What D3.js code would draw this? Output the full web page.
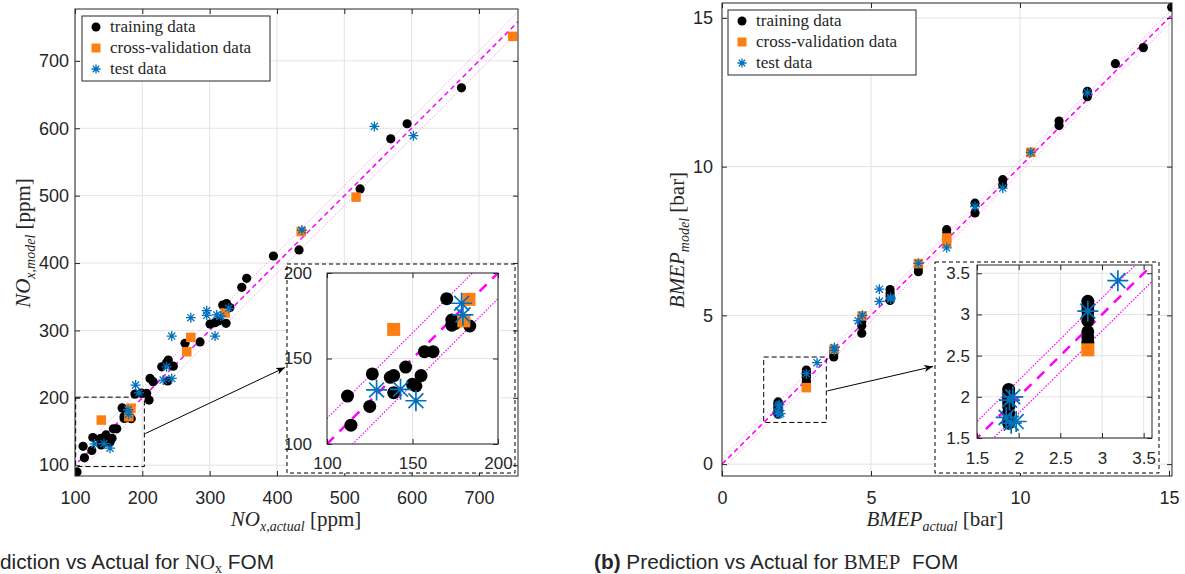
<!DOCTYPE html>
<html>
<head>
<meta charset="utf-8">
<script src="https://cdn.jsdelivr.net/npm/d3@7"></script>
<style>
  body { margin: 0; background: #fff; }
  text { fill: #262626; }
</style>
</head>
<body>
<div id="chart"></div>
<script>

// ---- data: [actual, model] pairs ----

let noxTrain = [
  [103, 90], [112, 128], [114, 111], [125, 122], [126.5, 141], [137, 139], [139, 140], [139, 130],
  [146, 145], [150, 135], [152, 134], [155, 140], [157, 154], [162, 154], [170, 185], [173, 172.5],
  [173, 169.5], [175, 170.5], [183.5, 169], [189, 205.5], [199, 207], [206.5, 206.5], [210, 196.6],
  [211.4, 228.8], [216, 224], [228.8, 246], [236, 252], [238.6, 256], [246, 247], [237.7, 225],
  [263.4, 281], [285.7, 283], [300.6, 309.5], [308, 311.5], [319.4, 337.7], [325, 340], [330, 334],
  [324.4, 310.5], [313, 314], [347.7, 364], [355, 377.4], [394.7, 410.5], [432.8, 419.5],
  [523.5, 510], [569, 584.4], [593.3, 606.7], [674, 660]
];
let noxCv = [
  [139, 167], [183, 184.6], [180, 172], [266, 268.4], [272, 289.7], [323, 326],
  [436, 446.7], [517.5, 497.8], [750, 736.4]
];
let noxTest = [
  [129, 131.6], [143, 132], [152, 125.3], [178.7, 182.3], [179.5, 175.5], [190, 219], [195, 207.4],
  [231, 226.3], [236, 246], [243.7, 228.8], [243.7, 291.7], [272, 319], [295.6, 329.3],
  [295.6, 322.4], [308, 291.7], [310.5, 323], [316.5, 321.4], [328.4, 332.8], [437, 449],
  [544.7, 602.7], [602.7, 589]
];

let bmepTrain = [
  [1.88, 2.09], [1.88, 2.04], [1.88, 1.98], [1.88, 1.93], [1.88, 1.88], [1.88, 1.80], [1.88, 1.72], [1.88, 1.68],
  [2.83, 3.16], [2.83, 3.10], [2.83, 3.04], [2.83, 2.97], [2.83, 2.92], [2.83, 2.79], [2.83, 2.72], [2.83, 2.66],
  [3.75, 3.60], [3.75, 3.70], [3.75, 3.80], [4.69, 4.40], [4.69, 4.65], [4.69, 4.79],
  [5.64, 5.87], [5.64, 5.75], [5.64, 5.65], [5.64, 5.50], [6.59, 6.47], [6.59, 6.60],
  [7.54, 7.88], [7.54, 7.75], [8.49, 8.44], [8.49, 8.77], [9.42, 9.56], [9.42, 9.39],
  [11.31, 11.53], [11.31, 11.38], [12.26, 12.35], [12.26, 12.53], [13.2, 13.46], [14.14, 14.0],
  [15.09, 15.36]
];
let bmepCv = [
  [2.83, 2.57], [3.76, 3.86], [4.7, 4.98], [6.59, 6.74], [7.54, 7.6], [7.54, 7.45], [10.36, 10.48]
];
let bmepTest = [
  [1.89, 1.96], [1.93, 2.0], [1.85, 1.75], [1.97, 1.70], [1.91, 1.68], [2.83, 3.04], [3.19, 3.41],
  [3.77, 3.82], [3.77, 3.92], [4.57, 4.82], [4.71, 5.0], [5.28, 5.88], [5.28, 5.47], [5.66, 5.55],
  [5.66, 5.6], [6.59, 6.75], [7.54, 7.27], [8.49, 8.66], [9.42, 9.28], [10.36, 10.48], [12.26, 12.48]
];

let noxTicks = [100, 200, 300, 400, 500, 600, 700];
let noxInsetTicks = [100, 150, 200];
let bmepTicks = [0, 5, 10, 15];
let bmepInsetTicks = [1.5, 2, 2.5, 3, 3.5];
let legendLabels = ["training data", "cross-validation data", "test data"];

// colours
let cOrange = "#fd7f12", cBlue = "#0072bd", cMag = "#ff00ff", cAxis = "#262626", cGrid = "#e3e3e3";

let svg = d3.select("#chart").append("svg")
    .attr("width", 1185)
    .attr("height", 574)
    .style("font-family", "'Liberation Sans', Arial, sans-serif");

let defs = svg.append("defs");
defs.append("marker")
    .attr("id", "arrow")
    .attr("viewBox", "0 0 10 10")
    .attr("refX", 10).attr("refY", 5)
    .attr("markerWidth", 9).attr("markerHeight", 9)
    .attr("markerUnits", "userSpaceOnUse")
    .attr("orient", "auto")
  .append("path")
    .attr("d", "M0,1 L10,5 L0,9 L3,5 Z")
    .attr("fill", "#000");

function starPath(s) {
  let h = s / 2, d = h * 0.71;
  return "M" + (-h) + ",0H" + h + "M0," + (-h) + "V" + h +
         "M" + (-d) + "," + (-d) + "L" + d + "," + d +
         "M" + (-d) + "," + d + "L" + d + "," + (-d);
}

let clipId = 0;

// one set of axes (main plot or inset)
function drawAxes(g, box, xDom, yDom, ticks, opt) {
  let x = d3.scaleLinear().domain(xDom).range([box.l, box.r]);
  let y = d3.scaleLinear().domain(yDom).range([box.b, box.t]);
  let fmt = d3.format("~g");

  if (opt.white) {
    g.append("rect")
      .attr("x", box.l).attr("y", box.t)
      .attr("width", box.r - box.l).attr("height", box.b - box.t)
      .attr("fill", "#fff");
  }

  // grid
  g.append("g").selectAll("line.gx").data(ticks).enter().append("line")
    .attr("x1", d => x(d)).attr("x2", d => x(d))
    .attr("y1", box.t).attr("y2", box.b)
    .attr("stroke", cGrid).attr("stroke-width", 1);
  g.append("g").selectAll("line.gy").data(ticks).enter().append("line")
    .attr("y1", d => y(d)).attr("y2", d => y(d))
    .attr("x1", box.l).attr("x2", box.r)
    .attr("stroke", cGrid).attr("stroke-width", 1);

  let id = "clip" + (clipId++);
  defs.append("clipPath").attr("id", id).append("rect")
    .attr("x", box.l).attr("y", box.t)
    .attr("width", box.r - box.l).attr("height", box.b - box.t);
  let plot = g.append("g").attr("clip-path", "url(#" + id + ")");

  // identity line and +/- band
  let lo = Math.min(xDom[0], yDom[0]) - opt.band, hi = Math.max(xDom[1], yDom[1]) + opt.band;
  [[0, opt.dash], [opt.band, opt.dot], [-opt.band, opt.dot]].forEach(function(l) {
    plot.append("line")
      .attr("x1", x(lo)).attr("y1", y(lo + l[0]))
      .attr("x2", x(hi)).attr("y2", y(hi + l[0]))
      .attr("stroke", cMag)
      .attr("stroke-width", l[1].w)
      .attr("stroke-opacity", l[1].o)
      .attr("stroke-dasharray", l[1].d);
  });

  // markers
  plot.append("g").selectAll("circle").data(opt.train).enter().append("circle")
    .attr("cx", d => x(d[0])).attr("cy", d => y(d[1]))
    .attr("r", opt.r).attr("fill", "#000");
  plot.append("g").selectAll("rect").data(opt.cv).enter().append("rect")
    .attr("x", d => x(d[0]) - opt.sq / 2).attr("y", d => y(d[1]) - opt.sq / 2)
    .attr("width", opt.sq).attr("height", opt.sq).attr("fill", cOrange);
  plot.append("g").selectAll("path").data(opt.test).enter().append("path")
    .attr("transform", d => "translate(" + x(d[0]) + "," + y(d[1]) + ")")
    .attr("d", starPath(opt.st))
    .attr("fill", "none").attr("stroke", cBlue).attr("stroke-width", opt.stw);

  // axes, ticks pointing inward
  let axes = [
    [d3.axisBottom(x), "translate(0," + box.b + ")", opt.xPad, true],
    [d3.axisTop(x), "translate(0," + box.t + ")", 0, false],
    [d3.axisLeft(y), "translate(" + box.l + ",0)", opt.yPad, true],
    [d3.axisRight(y), "translate(" + box.r + ",0)", 0, false]
  ];
  axes.forEach(function(a) {
    let ax = a[0].tickValues(ticks).tickSizeInner(-5).tickSizeOuter(0)
      .tickPadding(a[2]).tickFormat(a[3] ? fmt : "");
    let ag = g.append("g").attr("transform", a[1]).call(ax);
    ag.select(".domain").remove();
    ag.selectAll(".tick line").attr("stroke", cAxis);
    ag.selectAll("text")
      .style("font-size", opt.fs + "px")
      .style("font-family", "'Liberation Sans', Arial, sans-serif")
      .attr("fill", cAxis);
  });

  g.append("rect")
    .attr("x", box.l).attr("y", box.t)
    .attr("width", box.r - box.l).attr("height", box.b - box.t)
    .attr("fill", "none").attr("stroke", cAxis).attr("stroke-width", 1);

  return {x: x, y: y};
}

function mathLabel(t, base, sub, unit) {
  t.append("tspan").attr("font-style", "italic").text(base);
  t.append("tspan").attr("font-style", "italic").attr("font-size", 14).attr("dy", 5).text(sub);
  t.append("tspan").attr("dy", -5).text(" [" + unit + "]");
}

function drawLegend(g, lx, ly) {
  let w = 188, h = 65;
  g.append("rect").attr("x", lx).attr("y", ly).attr("width", w).attr("height", h)
    .attr("fill", "#fff").attr("stroke", cAxis).attr("stroke-width", 1);
  legendLabels.forEach(function(lab, i) {
    let cy = ly + 11 + i * 21, mx = lx + 14;
    if (i == 0) g.append("circle").attr("cx", mx).attr("cy", cy).attr("r", 4.5).attr("fill", "#000");
    if (i == 1) g.append("rect").attr("x", mx - 4.5).attr("y", cy - 4.5).attr("width", 9).attr("height", 9).attr("fill", cOrange);
    if (i == 2) g.append("path").attr("transform", "translate(" + mx + "," + cy + ")")
      .attr("d", starPath(9)).attr("stroke", cBlue).attr("stroke-width", 1.3).attr("fill", "none");
    g.append("text").attr("x", lx + 28).attr("y", cy + 5)
      .style("font-family", "'Liberation Serif', 'Times New Roman', serif")
      .style("font-size", "17px")
      .text(lab);
  });
}

let mainStyle = {
  dash: {w: 1.5, o: 1, d: "5,3.5"},
  dot: {w: 0.8, o: 0.55, d: "1.2,1.6"},
  r: 4.6, sq: 9.5, st: 10, stw: 1.3, fs: 18, white: false
};
let insetStyle = {
  dash: {w: 2.5, o: 1, d: "10,8"},
  dot: {w: 1.2, o: 1, d: "1.5,1.5"},
  r: 6.5, sq: 13, st: 21, stw: 1.7, fs: 17, white: true
};

// panels built from the arrays above
let panels = [
  {
    box: {l: 75, t: 9, r: 518, b: 476}, xDom: [100, 758], yDom: [84, 777], ticks: noxTicks,
    band: 15, train: noxTrain, cv: noxCv, test: noxTest, yPad: 6, xPad: 15,
    zoom: [[101, 98], [203, 201]], arrowY: 147, legend: [82, 16],
    inset: {box: {l: 327, t: 273, r: 498, b: 444}, dom: [100, 200], ticks: noxInsetTicks,
            outer: [287, 264, 515, 473], yPad: 15, xPad: 13},
    xl: ["NO", "x,actual", "ppm", 296, 526], yl: ["NO", "x,model", "ppm", 30, 243]
  },
  {
    box: {l: 722, t: 3, r: 1172, b: 476}, xDom: [0, 15.1], yDom: [-0.4, 15.5], ticks: bmepTicks,
    band: 0.2, train: bmepTrain, cv: bmepCv, test: bmepTest, yPad: 9, xPad: 15,
    zoom: [[1.4, 1.4], [3.5, 3.6]], arrowY: 2.46, legend: [728, 10],
    inset: {box: {l: 977, t: 265, r: 1152, b: 438}, dom: [1.5, 3.6], ticks: bmepInsetTicks,
            outer: [935, 262, 1159, 473], yPad: 7, xPad: 14},
    xl: ["BMEP", "actual", "bar", 935, 526], yl: ["BMEP", "model", "bar", 684, 240]
  }
];

panels.forEach(function(p) {
  let g = svg.append("g");
  let s = drawAxes(g, p.box, p.xDom, p.yDom, p.ticks, Object.assign({}, mainStyle,
    {band: p.band, train: p.train, cv: p.cv, test: p.test, yPad: p.yPad, xPad: p.xPad}));

  // axis labels
  let xt = g.append("text").attr("x", p.xl[3]).attr("y", p.xl[4]).attr("text-anchor", "middle")
    .style("font-family", "'Liberation Serif', serif").style("font-size", "21px");
  mathLabel(xt, p.xl[0], p.xl[1], p.xl[2]);
  let yt = g.append("text").attr("text-anchor", "middle")
    .attr("transform", "translate(" + p.yl[3] + "," + p.yl[4] + ") rotate(-90)")
    .style("font-family", "'Liberation Serif', serif").style("font-size", "21px");
  mathLabel(yt, p.yl[0], p.yl[1], p.yl[2]);

  // zoom box and arrow
  let z0 = p.zoom[0], z1 = p.zoom[1];
  g.append("rect")
    .attr("x", s.x(z0[0])).attr("y", s.y(z1[1]))
    .attr("width", s.x(z1[0]) - s.x(z0[0])).attr("height", s.y(z0[1]) - s.y(z1[1]))
    .attr("fill", "none").attr("stroke", "#000").attr("stroke-dasharray", "5,3");

  let o = p.inset.outer;
  g.append("rect")
    .attr("x", o[0]).attr("y", o[1])
    .attr("width", p.inset.box.r - o[0] + 2).attr("height", o[3] - o[1])
    .attr("fill", "#fff");

  let ig = g.append("g");
  drawAxes(ig, p.inset.box, p.inset.dom, p.inset.dom, p.inset.ticks, Object.assign({}, insetStyle,
    {band: p.band, train: p.train, cv: p.cv, test: p.test, yPad: p.inset.yPad, xPad: p.inset.xPad}));

  g.append("rect")
    .attr("x", o[0]).attr("y", o[1])
    .attr("width", o[2] - o[0]).attr("height", o[3] - o[1])
    .attr("fill", "none").attr("stroke", "#000").attr("stroke-dasharray", "4,3");

  g.append("line")
    .attr("x1", s.x(z1[0]) + 1).attr("y1", s.y(p.arrowY))
    .attr("x2", o[0] - 2).attr("y2", (o[1] + o[3]) / 2 - 1)
    .attr("stroke", "#000").attr("stroke-width", 1)
    .attr("marker-end", "url(#arrow)");

  drawLegend(g, p.legend[0], p.legend[1]);
});

// captions (the left one runs off the page edge in the reference too)
let capL = svg.append("text").attr("x", 274).attr("y", 569).attr("text-anchor", "end").style("font-size", "20.8px");
capL.append("tspan").attr("font-weight", "bold").text("(a)");
capL.append("tspan").text(" Prediction vs Actual for ");
capL.append("tspan").style("font-family", "'Liberation Serif', serif").text("NO");
capL.append("tspan").style("font-family", "'Liberation Serif', serif").attr("font-size", 14).attr("dy", 4).text("x");
capL.append("tspan").attr("dy", -4).text(" FOM");

let capR = svg.append("text").attr("x", 594).attr("y", 569).style("font-size", "20.8px");
capR.append("tspan").attr("font-weight", "bold").text("(b)");
capR.append("tspan").text(" Prediction vs Actual for ");
capR.append("tspan").style("font-family", "'Liberation Serif', serif").text("BMEP");
capR.append("tspan").attr("dx", 6).text(" FOM");

</script>
</body>
</html>
